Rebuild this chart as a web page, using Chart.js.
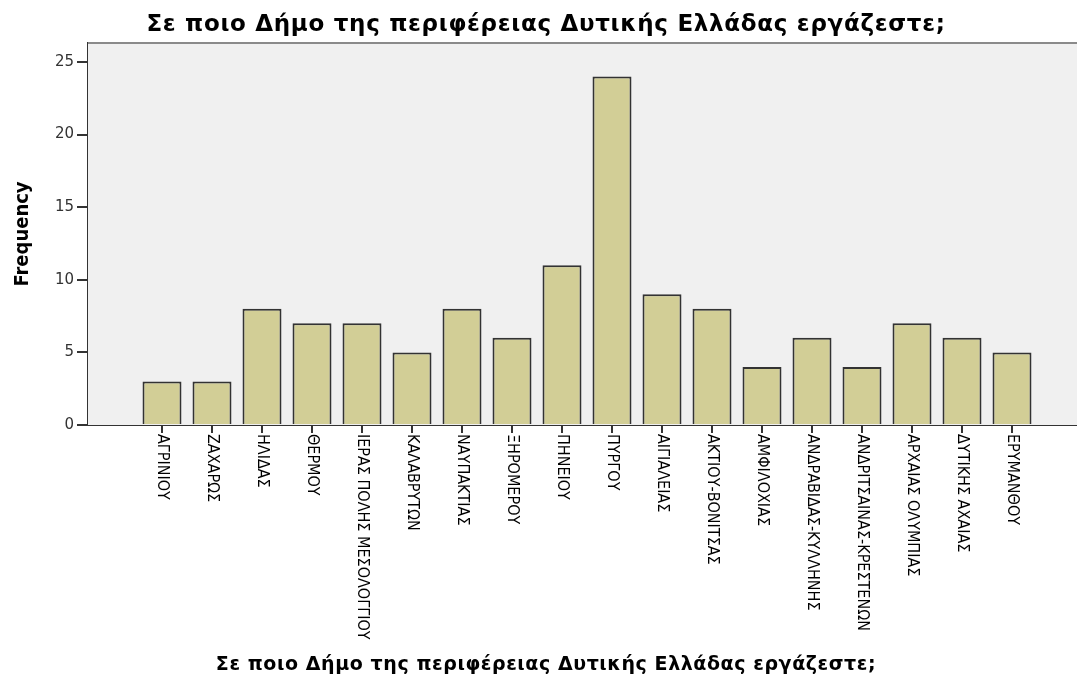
<!DOCTYPE html>
<html>
<head>
<meta charset="utf-8">
<script src="https://cdn.jsdelivr.net/npm/chart.js@4"></script>
<style>
  html, body { margin: 0; padding: 0; background: #fff; overflow: hidden; }
  #wrap { width: 1077px; height: 677px; }
</style>
</head>
<body>
<div id="wrap"><canvas id="chart"></canvas></div>
<script>
const titleText = 'Σε ποιο Δήμο της περιφέρειας Δυτικής Ελλάδας εργάζεστε;';
const dimoi = ['ΑΓΡΙΝΙΟΥ', 'ΖΑΧΑΡΩΣ', 'ΗΛΙΔΑΣ', 'ΘΕΡΜΟΥ', 'ΙΕΡΑΣ ΠΟΛΗΣ ΜΕΣΟΛΟΓΓΙΟΥ',
  'ΚΑΛΑΒΡΥΤΩΝ', 'ΝΑΥΠΑΚΤΙΑΣ', 'ΞΗΡΟΜΕΡΟΥ', 'ΠΗΝΕΙΟΥ', 'ΠΥΡΓΟΥ', 'ΑΙΓΙΑΛΕΙΑΣ',
  'ΑΚΤΙΟΥ-ΒΟΝΙΤΣΑΣ', 'ΑΜΦΙΛΟΧΙΑΣ', 'ΑΝΔΡΑΒΙΔΑΣ-ΚΥΛΛΗΝΗΣ', 'ΑΝΔΡΙΤΣΑΙΝΑΣ-ΚΡΕΣΤΕΝΩΝ',
  'ΑΡΧΑΙΑΣ ΟΛΥΜΠΙΑΣ', 'ΔΥΤΙΚΗΣ ΑΧΑΙΑΣ', 'ΕΡΥΜΑΝΘΟΥ'];
const frequency = [3, 3, 8, 7, 7, 5, 8, 6, 11, 24, 9, 8, 4, 6, 4, 7, 6, 5];
const yTicks = [0, 5, 10, 15, 20, 25];

const canvas = document.getElementById('chart');

// background, frame, rotated labels and titles
const spssLook = {
  id: 'spssLook',
  beforeDatasetsDraw(chart) {
    const {ctx, chartArea: a} = chart;
    ctx.save();
    ctx.fillStyle = '#f0f0f0';
    ctx.fillRect(a.left, a.top, a.right - a.left, a.bottom - a.top);
    ctx.strokeStyle = '#8a8a8a';
    ctx.lineWidth = 2;
    ctx.beginPath();
    ctx.moveTo(a.left, a.top);
    ctx.lineTo(a.right, a.top);
    ctx.stroke();
    ctx.restore();
  },
  afterDraw(chart) {
    const {ctx, chartArea: a} = chart;
    const x = chart.scales.x;
    ctx.save();
    ctx.fillStyle = '#000';
    ctx.font = '16px "Liberation Sans Narrow", "DejaVu Sans Condensed", sans-serif';
    ctx.textAlign = 'left';
    ctx.textBaseline = 'middle';
    dimoi.forEach((d, i) => {
      ctx.save();
      ctx.translate(x.getPixelForValue(i), a.bottom + 9);
      ctx.rotate(Math.PI / 2);
      ctx.fillText(d, 0, 0);
      ctx.restore();
    });
    ctx.textAlign = 'center';
    ctx.textBaseline = 'alphabetic';
    // chart title
    ctx.font = 'bold 23px "DejaVu Sans", sans-serif';
    ctx.letterSpacing = '0.7px';
    ctx.fillText(titleText, 546, 31);
    // x axis title, a bit smaller
    ctx.font = 'bold 19px "DejaVu Sans", sans-serif';
    ctx.letterSpacing = '0.58px';
    ctx.fillText(titleText, 546, 670);
    ctx.restore();
  }
};

new Chart(canvas, {
  type: 'bar',
  data: {
    datasets: [{
      label: 'Frequency',
      data: frequency.map((v, i) => ({x: i, y: v})),
      backgroundColor: '#d2ce96',
      borderColor: '#333',
      borderWidth: 2,
      barPercentage: 0.78,
      categoryPercentage: 1
    }]
  },
  plugins: [spssLook],
  options: {
    responsive: true,
    maintainAspectRatio: false,
    animation: false,
    layout: { padding: { top: 43, left: 0, right: 0, bottom: 0 } },
    plugins: {
      legend: { display: false },
      tooltip: { enabled: false }
    },
    scales: {
      x: {
        type: 'linear',
        offset: false,
        min: -1.48,
        max: 18.3,
        afterFit: s => { s.height = 252; },
        afterBuildTicks: s => { s.ticks = dimoi.map((d, i) => ({value: i})); },
        ticks: { display: false },
        grid: { offset: false, drawOnChartArea: false, drawTicks: true, tickLength: 8, color: '#333', lineWidth: 2 },
        border: { display: true, color: '#333', width: 2 }
      },
      y: {
        min: 0,
        max: 26.3,
        afterFit: s => { s.width = 88; },
        afterBuildTicks: s => { s.ticks = yTicks.map(v => ({value: v})); },
        ticks: {
          color: '#333',
          padding: 3,
          font: { family: '"DejaVu Sans", sans-serif', size: 15 }
        },
        grid: { drawOnChartArea: false, drawTicks: true, tickLength: 11, color: '#333', lineWidth: 2 },
        border: { display: true, color: '#333', width: 2 },
        title: {
          display: true,
          text: 'Frequency',
          color: '#000',
          padding: { top: 11, bottom: 0 },
          font: { family: '"DejaVu Sans Condensed", "Liberation Sans Narrow", sans-serif', size: 20, weight: 'bold' }
        }
      }
    }
  }
});
</script>
</body>
</html>
